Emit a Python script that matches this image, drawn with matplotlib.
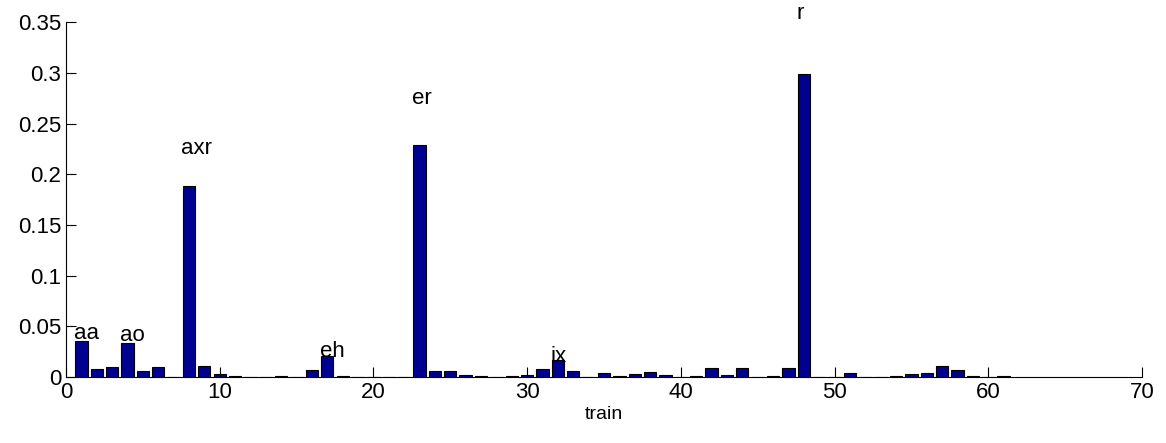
import matplotlib

matplotlib.use("Agg")

import matplotlib.pyplot as plt
import numpy as np

# posterior per phone index
phone_idx = np.arange(1, 62)
probs = [
    0.0358, 0.0079, 0.0099, 0.0338, 0.0060, 0.0102, 0.0, 0.188, 0.0112, 0.0033,
    0.0010, 0.0, 0.0, 0.0005, 0.0, 0.0069, 0.0210, 0.0005, 0.0, 0.0,
    0.0, 0.0, 0.229, 0.0059, 0.0059, 0.0016, 0.0007, 0.0, 0.0005, 0.0015,
    0.0082, 0.0168, 0.0059, 0.0, 0.0039, 0.0007, 0.0030, 0.0049, 0.0016, 0.0,
    0.0010, 0.0092, 0.0023, 0.0092, 0.0, 0.0007, 0.0086, 0.299, 0.0, 0.0,
    0.0035, 0.0, 0.0, 0.0008, 0.0033, 0.0039, 0.0105, 0.0066, 0.0007, 0.0,
    0.0005,
]
label_idx = [1, 4, 8, 17, 23, 32, 48]
label_txt = ["aa", "ao", "axr", "eh", "er", "ix", "r"]

plt.rcParams["font.family"] = ["Liberation Sans", "DejaVu Sans"]
plt.rcParams["font.size"] = 16

fig = plt.figure(figsize=(11.66, 4.43), dpi=100)
ax = fig.add_axes([0.0566, 0.149, 0.9228, 0.801])

ax.bar(phone_idx, probs, width=0.8, color="#000090", edgecolor="black", linewidth=0.8)
for i, name in zip(label_idx, label_txt):
    ax.text(i - 0.5, 1.2 * probs[i - 1], name, ha="left", va="center", fontsize=16)

ax.set_xlim(0, 70)
ax.set_ylim(0, 0.35)
ax.set_xticks(np.arange(0, 71, 10))
ax.set_yticks(np.arange(0, 0.351, 0.05))
ax.set_yticklabels(["0", "0.05", "0.1", "0.15", "0.2", "0.25", "0.3", "0.35"])
ax.set_xlabel("train", fontsize=14, labelpad=2)
ax.spines["top"].set_visible(False)
ax.spines["right"].set_visible(False)
ax.tick_params(direction="in", length=7, width=0.8, labelsize=16)

fig.savefig("out.png", dpi=100)
